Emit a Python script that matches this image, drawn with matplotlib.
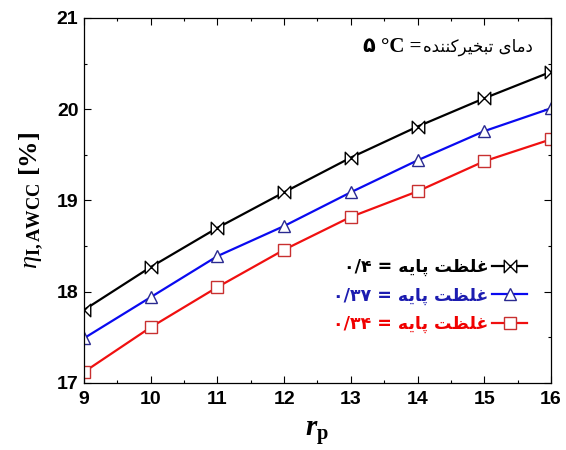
import matplotlib
matplotlib.use("Agg")
import matplotlib.pyplot as plt
from matplotlib.path import Path
from matplotlib.ticker import MultipleLocator

plt.rcParams['mathtext.fontset'] = 'custom'
plt.rcParams['mathtext.rm'] = 'Liberation Serif'
plt.rcParams['mathtext.it'] = 'Liberation Serif:italic'
plt.rcParams['mathtext.bf'] = 'Liberation Serif:bold'
plt.rcParams['mathtext.bfit'] = 'Liberation Serif:bold:italic'

# ---- data ----
rp = [9, 10, 11, 12, 13, 14, 15, 16]
eta_040 = [17.80, 18.27, 18.70, 19.09, 19.47, 19.81, 20.12, 20.41]
eta_037 = [17.49, 17.94, 18.39, 18.72, 19.09, 19.44, 19.76, 20.01]
eta_034 = [17.12, 17.61, 18.05, 18.46, 18.82, 19.10, 19.43, 19.67]
xticks = [9, 10, 11, 12, 13, 14, 15, 16]
yticks = [17, 18, 19, 20, 21]

# Persian words in visual (shaped) order
ghalzat = "\uFE96\uFEC8\uFEE0\uFECF"          # غلظت
paye = "\uFEEA\uFBFE\uFE8E\uFB58"             # پایه
damaye = "\uFBFC\uFE8E\uFEE3\uFEA9"           # دمای
tabkhir = "\uFEE9\uFEAA\uFEE8\uFEE8\uFB90\uFEAE\uFBFF\uFEA8\uFE92\uFE97"  # تبخیرکننده
labels = ["\u06F0/\u06F4 = " + paye + " " + ghalzat,
          "\u06F0/\u06F3\u06F7 = " + paye + " " + ghalzat,
          "\u06F0/\u06F3\u06F4 = " + paye + " " + ghalzat]

bowtie = Path([(-1, -1), (0, 0), (-1, 1), (-1, -1), (1, -1), (0, 0), (1, 1), (1, -1)],
              [Path.MOVETO, Path.LINETO, Path.LINETO, Path.CLOSEPOLY,
               Path.MOVETO, Path.LINETO, Path.LINETO, Path.CLOSEPOLY])

fig = plt.figure(figsize=(5.66, 4.5), dpi=100)
ax = fig.add_axes([0.1484, 0.149, 0.825, 0.811])

ax.plot(rp, eta_040, color='black', lw=1.6, marker=bowtie, ms=9,
        mfc='white', mec='black', mew=1.0, label=labels[0])
ax.plot(rp, eta_037, color='#0a0af0', lw=1.6, marker='^', ms=9,
        mfc='white', mec='#2a2a90', mew=1.0, label=labels[1])
ax.plot(rp, eta_034, color='#f01010', lw=1.6, marker='s', ms=8,
        mfc='white', mec='#c83030', mew=1.0, label=labels[2])

ax.set_xlim(9, 16)
ax.set_ylim(17, 21)
ax.set_xticks(xticks)
ax.set_yticks(yticks)
ax.xaxis.set_minor_locator(MultipleLocator(0.5))
ax.yaxis.set_minor_locator(MultipleLocator(0.5))
ax.tick_params(which='both', direction='in', top=True, right=True, width=0.8)
ax.tick_params(which='major', length=5)
ax.tick_params(which='minor', length=2.5)
ax.tick_params(axis='x', pad=6)
ax.tick_params(axis='y', pad=4)
for lab in ax.get_xticklabels() + ax.get_yticklabels():
    lab.set_fontfamily('Liberation Sans')
    lab.set_fontweight('bold')
    lab.set_fontsize(14)
for s in ax.spines.values():
    s.set_linewidth(0.9)

ax.set_xlabel(r'$\boldsymbol{r}_{\mathbf{p}}$', fontsize=21, labelpad=8)
ax.set_ylabel(r'$\eta_{\mathbf{I,AWCC}}$ [%]', fontsize=19, labelpad=8,
              family='Liberation Serif', fontweight='bold')

leg = ax.legend(loc='upper right', bbox_to_anchor=(0.982, 0.385), frameon=False,
                markerfirst=False, handlelength=2.0, handletextpad=0.2,
                labelspacing=0.58, prop={'family': 'DejaVu Sans', 'weight': 'bold', 'size': 12.5})
for txt, c in zip(leg.get_texts(), ['black', '#1c1cb0', '#f00000']):
    txt.set_color(c)

pt = ax.text(0.961, 0.921, tabkhir + " " + damaye, transform=ax.transAxes,
             ha='right', va='center', fontsize=12, family='DejaVu Sans')
ax.annotate("\u06F5 \u00B0C =", xy=(0, 0.5), xycoords=pt, xytext=(-1, 0),
            textcoords='offset points', ha='right', va='center', fontsize=15,
            fontweight='bold', family=['Liberation Serif', 'DejaVu Sans'])

fig.savefig('out.png', dpi=100)
